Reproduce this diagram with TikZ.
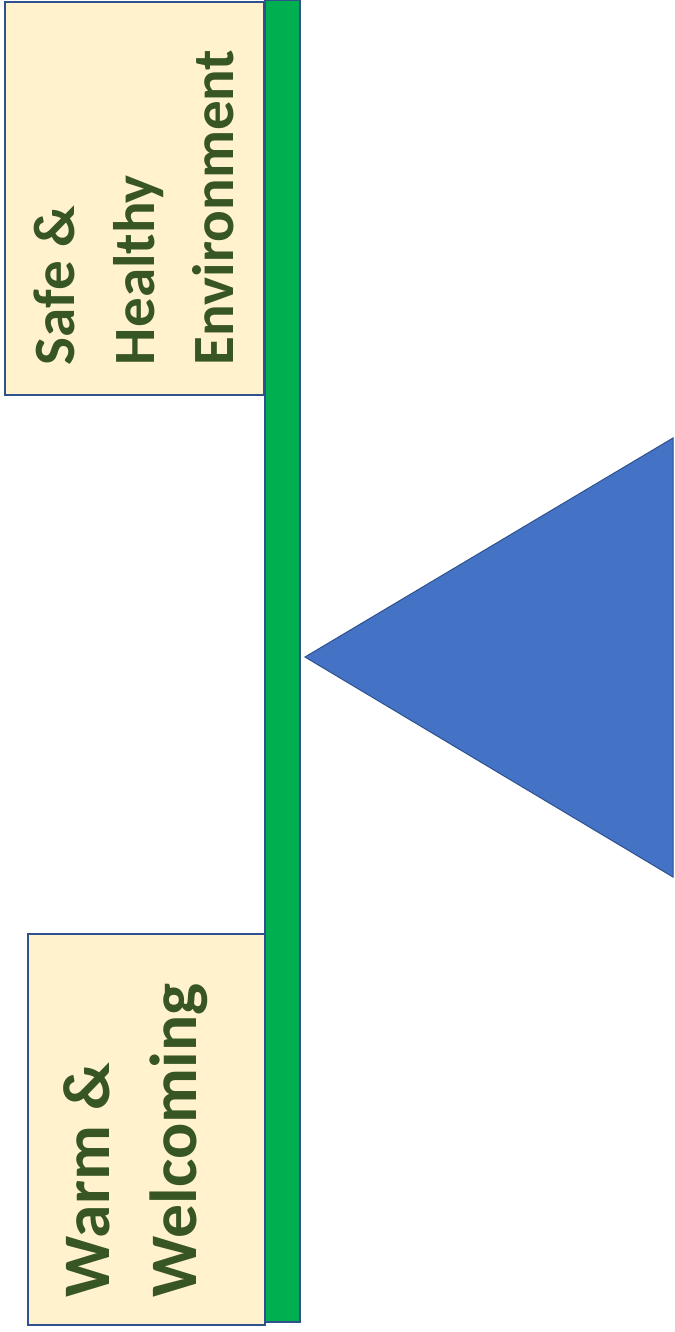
\documentclass[tikz,border=0pt]{standalone}
\usepackage{fontspec}
\setmainfont{Carlito}
\newfontfamily\topfam[FakeStretch=1.01]{Carlito}
\newfontfamily\botfam[FakeStretch=1.016]{Carlito}
\definecolor{cream}{HTML}{FFF2CC}
\definecolor{edgeblue}{HTML}{2F528F}
\definecolor{beamgreen}{HTML}{00B050}
\definecolor{triblue}{HTML}{4472C4}
\definecolor{txtgreen}{HTML}{375623}
\tikzset{
  panel/.style={draw=edgeblue, line width=2bp, fill=cream, inner sep=0, outer sep=0},
  beam/.style={draw=edgeblue, line width=1.5bp, fill=beamgreen, inner sep=0, outer sep=0},
  fulcrum/.style={draw=edgeblue, line width=1bp, fill=triblue, line join=miter},
  lbl/.style={rotate=90, anchor=base west, inner sep=0, outer sep=0, text=txtgreen},
  topfont/.style={font=\topfam\bfseries\fontsize{58.5bp}{70bp}\selectfont},
  botfont/.style={font=\botfam\bfseries\fontsize{66.5bp}{80bp}\selectfont}
}
\begin{document}
\begin{tikzpicture}[x=1bp,y=-1bp]
\useasboundingbox (0,0) rectangle (674,1332);
\fill[white] (0,0) rectangle (674,1332);
% beam
\node[beam, minimum width=35bp, minimum height=1322bp] (beamnode) at (282.5,661) {};
% panels
\node[panel, minimum width=259bp, minimum height=393bp] (toppanel) at (134.5,198.5) {};
\node[panel, minimum width=237bp, minimum height=391bp] (botpanel) at (146.5,1129.5) {};
% fulcrum
\coordinate (tip) at (305,657);
\coordinate (baseA) at (673,438);
\coordinate (baseB) at (673,877);
\draw[fulcrum] (tip) -- (baseA) -- (baseB) -- cycle;
% labels
\node[lbl, topfont] (s1) at (74,365) {Safe \&};
\node[lbl, topfont] (s2) at (154,365) {Healthy};
\node[lbl, topfont] (s3) at (233,365) {Environment};
\node[lbl, botfont] (w1) at (109,1297) {Warm \&};
\node[lbl, botfont] (w2) at (196,1297) {Welcoming};
\end{tikzpicture}
\end{document}
